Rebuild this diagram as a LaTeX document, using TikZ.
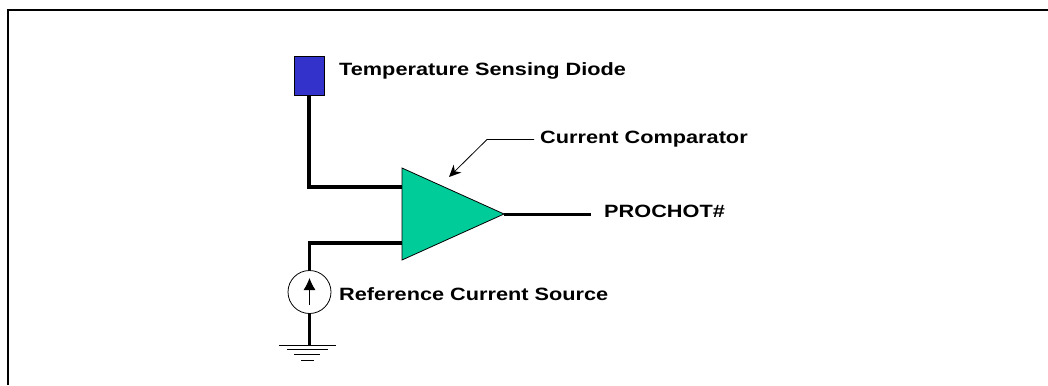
\documentclass[tikz,border=0pt]{standalone}
\usepackage{fontspec}
\setmainfont{Liberation Sans}[FakeStretch=1.22]
\usetikzlibrary{arrows.meta,calc}
\definecolor{diodeblue}{RGB}{51,51,204}
\definecolor{compgreen}{RGB}{0,204,153}
\tikzset{
  wire/.style={line width=3.8pt,line cap=butt},
  thinline/.style={line width=0.8pt},
  lab/.style={anchor=west,inner sep=0pt,font=\bfseries\fontsize{17.8}{19}\selectfont},
}
\begin{document}
\begin{tikzpicture}[x=1pt,y=-1pt,line join=miter]
\useasboundingbox (0,0) rectangle (1048,385);
\fill[white] (0,0) rectangle (1048,385);
\draw[line width=2pt] (7.5,385) -- (7.5,10) -- (1048,10);
% diode and comparator
\node[draw,fill=diodeblue,thinline,minimum width=30pt,minimum height=39pt,inner sep=0pt] (diode) at (309,75.5) {};
\coordinate (inA) at (402,187);
\coordinate (inB) at (402,243);
\coordinate (out) at (504,214);
\node[draw,circle,minimum size=43pt,inner sep=0pt,thinline] (source) at (309.5,292) {};
\coordinate (gnd) at (309.5,345);
\coordinate (prochot) at (591,214);
\draw[wire] (diode.south) |- (inA);
\draw[wire] (source.north) |- (inB);
\draw[wire] (source.south) -- (gnd);
\draw[wire,line width=3pt] (out) -- (prochot);
\draw[fill=compgreen,thinline] (402,168) coordinate (top) -- (out) -- (402,260) coordinate (bot) -- cycle;
% ground bars
\draw[thinline] (279,345) -- (336,345) (287,349.5) -- (328,349.5)
  (294,354.5) -- (320,354.5) (301,360) -- (314,360);
\draw[thinline,-{Latex[length=12pt,width=12pt]}] (309.5,305) -- (309.5,278);
% labels
\node[lab] (diodelab) at (339,71) {Temperature Sensing Diode};
\node[lab] (complab) at (540,139) {Current Comparator};
\node[lab] (outlab) at (604,211) {PROCHOT\#};
\node[lab] (sourcelab) at (339,294) {Reference Current Source};
\draw[thinline,shorten <=6pt,-{Stealth[length=12pt,width=11pt]}] (complab.west |- 0,139.5) -- (487,139.5) -- (449,177);
\end{tikzpicture}
\end{document}
